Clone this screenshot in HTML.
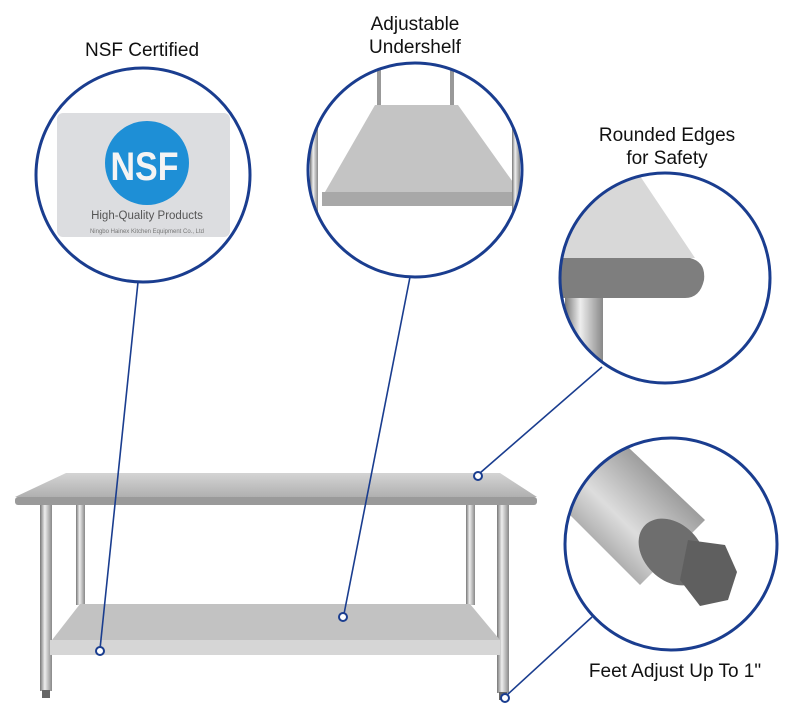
<!DOCTYPE html>
<html><head><style>
body{margin:0;background:#fff;width:793px;height:722px;overflow:hidden}
svg{display:block}
text{font-family:"Liberation Sans",sans-serif;fill:#111}
</style></head><body>
<svg width="793" height="722" viewBox="0 0 793 722">
<defs>
<linearGradient id="steel" x1="0" y1="0" x2="0" y2="1"><stop offset="0" stop-color="#d4d4d4"/><stop offset="1" stop-color="#b0b0b0"/></linearGradient>
<linearGradient id="leg" x1="0" y1="0" x2="1" y2="0"><stop offset="0" stop-color="#777"/><stop offset=".4" stop-color="#eee"/><stop offset="1" stop-color="#888"/></linearGradient>
<linearGradient id="rod" x1="0" y1="1" x2="1" y2="0"><stop offset="0" stop-color="#555"/><stop offset=".45" stop-color="#ddd"/><stop offset="1" stop-color="#555"/></linearGradient>
<clipPath id="c1"><circle cx="143" cy="175" r="107"/></clipPath>
<clipPath id="c2"><circle cx="415" cy="170" r="107"/></clipPath>
<clipPath id="c3"><circle cx="665" cy="278" r="105"/></clipPath>
<clipPath id="c4"><circle cx="671" cy="544" r="106"/></clipPath>
</defs>
<text x="142" y="56" font-size="19" text-anchor="middle">NSF Certified</text>
<text x="415" y="30" font-size="19" text-anchor="middle">Adjustable</text>
<text x="415" y="53" font-size="19" text-anchor="middle">Undershelf</text>
<text x="667" y="141" font-size="19" text-anchor="middle">Rounded Edges</text>
<text x="667" y="164" font-size="19" text-anchor="middle">for Safety</text>
<text x="675" y="677" font-size="19" text-anchor="middle">Feet Adjust Up To 1"</text>

<polygon points="66,473 500,473 537,497 15,497" fill="url(#steel)"/>
<rect x="15" y="497" width="522" height="8" rx="3" fill="#9a9a9a"/>
<rect x="40" y="505" width="12" height="186" fill="url(#leg)"/>
<rect x="76" y="505" width="9" height="100" fill="url(#leg)"/>
<rect x="466" y="505" width="9" height="100" fill="url(#leg)"/>
<rect x="497" y="505" width="12" height="188" fill="url(#leg)"/>
<polygon points="80,604 470,604 500,640 52,640" fill="#c2c2c2"/>
<rect x="50" y="640" width="450" height="15" fill="#d6d6d6"/>
<rect x="42" y="690" width="8" height="8" fill="#666"/>
<rect x="499" y="692" width="8" height="8" fill="#666"/>

<g stroke="#1a3d8f" stroke-width="1.6" fill="none">
<line x1="138" y1="282" x2="100" y2="649"/>
<line x1="410" y1="277" x2="344" y2="614"/>
<line x1="602" y1="367" x2="480" y2="473"/>
<line x1="592" y1="617" x2="507" y2="695"/>
</g>
<g stroke="#1a3d8f" stroke-width="2" fill="#fff">
<circle cx="100" cy="651" r="4"/><circle cx="343" cy="617" r="4"/>
<circle cx="478" cy="476" r="4"/><circle cx="505" cy="698" r="4"/>
</g>

<g clip-path="url(#c1)">
<rect x="30" y="60" width="230" height="230" fill="#fff"/>
<rect x="57" y="113" width="173" height="124" rx="6" fill="#dcdde0"/>
<circle cx="147" cy="163" r="42" fill="#1e8fd6"/>
<text x="145" y="180" font-size="40" font-weight="bold" text-anchor="middle" style="fill:#f4f4f4" transform="scale(.85 1) translate(25 0)">NSF</text>
<text x="147" y="219" font-size="11.5" text-anchor="middle" style="fill:#555">High-Quality Products</text>
<text x="147" y="233" font-size="6" text-anchor="middle" style="fill:#777">Ningbo Hainex Kitchen Equipment Co., Ltd</text>
</g>
<circle cx="143" cy="175" r="107" fill="none" stroke="#1a3d8f" stroke-width="3"/>

<g clip-path="url(#c2)">
<rect x="300" y="60" width="230" height="230" fill="#fff"/>
<rect x="377" y="60" width="4" height="50" fill="#999"/><rect x="450" y="60" width="4" height="50" fill="#999"/>
<polygon points="375,105 458,105 520,192 325,192" fill="#c4c4c4"/>
<rect x="322" y="192" width="200" height="14" fill="#a8a8a8"/>
<rect x="310" y="120" width="8" height="100" fill="url(#leg)"/>
<rect x="512" y="120" width="8" height="100" fill="url(#leg)"/>
</g>
<circle cx="415" cy="170" r="107" fill="none" stroke="#1a3d8f" stroke-width="3"/>

<g clip-path="url(#c3)">
<rect x="555" y="170" width="230" height="230" fill="#fff"/>
<polygon points="555,170 636,170 695,258 555,258" fill="#d8d8d8"/>
<path d="M555,258 L690,258 Q706,262 704,280 Q700,298 685,298 L555,298 Z" fill="#7e7e7e"/>
<rect x="565" y="298" width="38" height="100" fill="url(#leg)"/>
</g>
<circle cx="665" cy="278" r="105" fill="none" stroke="#1a3d8f" stroke-width="3"/>

<g clip-path="url(#c4)">
<polygon points="545,490 610,430 705,520 640,585" fill="url(#rod)"/>
<ellipse cx="672" cy="552" rx="28" ry="38" transform="rotate(-45 672 552)" fill="#6e6e6e"/>
<polygon points="688,540 725,545 737,572 728,600 700,606 680,580" fill="#5f5f5f"/>
</g>
<circle cx="671" cy="544" r="106" fill="none" stroke="#1a3d8f" stroke-width="3"/>
</svg>
</body></html>
